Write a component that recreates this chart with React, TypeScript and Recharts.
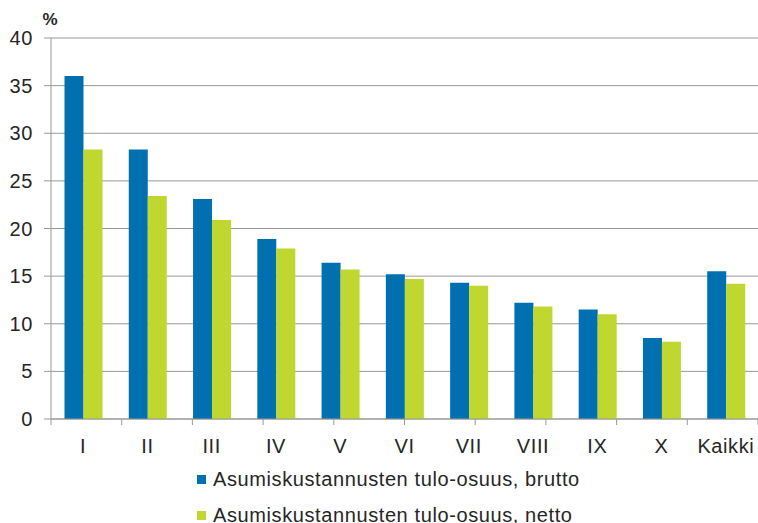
import React from 'react';
import { BarChart, Bar, XAxis, YAxis, CartesianGrid, Legend } from 'recharts';

const categories = ['I', 'II', 'III', 'IV', 'V', 'VI', 'VII', 'VIII', 'IX', 'X', 'Kaikki'];
const brutto = [36.0, 28.3, 23.1, 18.9, 16.4, 15.2, 14.3, 12.2, 11.5, 8.5, 15.5];
const netto = [28.3, 23.4, 20.9, 17.9, 15.7, 14.7, 14.0, 11.8, 11.0, 8.1, 14.2];
const yTicks = [0, 5, 10, 15, 20, 25, 30, 35, 40];
const seriesNames = ['Asumiskustannusten tulo-osuus, brutto', 'Asumiskustannusten tulo-osuus, netto'];
const colors = ['#0070B0', '#C0D72F'];
const boundaryTicks = categories.map((_, i) => i).concat([categories.length]);

const data = categories.map((c, i) => ({ name: c, brutto: brutto[i], netto: netto[i] }));

const FONT = 'Liberation Sans, Arial, sans-serif';
const TEXT = '#262626';
const LS = 0.6;

const LegendContent = () => (
  <div style={{ fontFamily: FONT, fontSize: 20, color: TEXT }}>
    {seriesNames.map((n, i) => (
      <div key={n} style={{ display: 'flex', alignItems: 'center', height: 20, marginBottom: i === 0 ? 16.5 : 0 }}>
        <span style={{ display: 'inline-block', width: 9, height: 9, background: colors[i], marginRight: 7 }} />
        <span style={{ whiteSpace: 'nowrap', letterSpacing: LS }}>{n}</span>
      </div>
    ))}
  </div>
);

export default function App() {
  return (
    <div style={{ position: 'absolute', left: 0, top: 0, width: 758, height: 523, background: '#fff' }}>
      <BarChart
        width={758}
        height={523}
        data={data}
        margin={{ top: 38, right: 0, bottom: 0, left: 0 }}
        barCategoryGap="21%"
        barGap={0}
      >
        <CartesianGrid vertical={false} stroke="#999" strokeWidth={1} />
        <XAxis
          xAxisId="bound"
          type="number"
          domain={[0, categories.length]}
          ticks={boundaryTicks}
          height={8}
          axisLine={{ stroke: '#999' }}
          tickLine={{ stroke: '#999', strokeWidth: 1 }}
          tickSize={6}
          tick={{ fontSize: 0 }}
          tickFormatter={() => ''}
          interval={0}
          allowDataOverflow
        />
        <XAxis
          dataKey="name"
          xAxisId="cat"
          height={96}
          axisLine={false}
          tickLine={false}
          tickMargin={6}
          tick={{ fill: TEXT, fontSize: 20, fontFamily: FONT, letterSpacing: LS }}
          interval={0}
        />
        <YAxis
          width={51}
          domain={[0, 40]}
          ticks={yTicks}
          axisLine={{ stroke: '#999' }}
          tickLine={{ stroke: '#999' }}
          tickSize={7}
          tickMargin={11}
          tick={{ fill: TEXT, fontSize: 20, fontFamily: FONT, letterSpacing: LS }}
          label={{
            value: '%',
            content: () => (
              <text x={50} y={25} textAnchor="middle" fontFamily={FONT} fontSize={17} fontWeight="bold" fill={TEXT}>
                %
              </text>
            ),
          }}
        />
        <Legend
          layout="vertical"
          align="center"
          verticalAlign="middle"
          wrapperStyle={{ top: 469, left: 197, width: 'auto', height: 'auto' }}
          content={<LegendContent />}
        />
        <Bar dataKey="brutto" xAxisId="cat" name={seriesNames[0]} fill={colors[0]} isAnimationActive={false} />
        <Bar dataKey="netto" xAxisId="cat" name={seriesNames[1]} fill={colors[1]} isAnimationActive={false} />
      </BarChart>
    </div>
  );
}
